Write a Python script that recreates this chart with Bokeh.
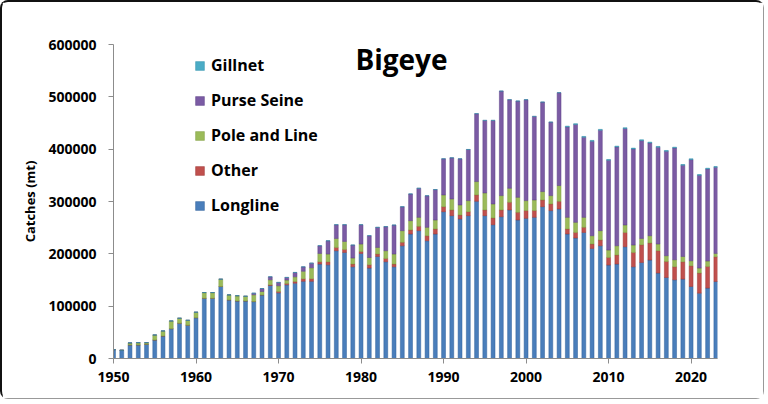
from bokeh.plotting import figure
from bokeh.models import (ColumnDataSource, Legend, LegendItem, Label,
                          FixedTicker, NumeralTickFormatter, Range1d)
from bokeh.embed import file_html
from bokeh.resources import INLINE

# catches in metric tonnes
years = list(range(1950, 2024))

longline = [
    17000, 15700, 26000, 26000, 27000, 35400, 43000, 57000, 67400, 63600,
    78000, 115000, 115000, 137600, 112000, 110000, 110000, 108800, 121500, 139500,
    125500, 140800, 144000, 147500, 147500, 180400, 179000, 206000, 202700, 175300,
    200800, 172800, 195000, 184900, 175300, 215500, 237900, 244300, 225000, 237900,
    280600, 273000, 266600, 273000, 300400, 273000, 255700, 271000, 283900, 264700,
    267800, 269700, 290200, 282600, 285800, 237900, 230200, 241000, 210400, 215500,
    178500, 180400, 213600, 175300, 183600, 188100, 163200, 154800, 150400, 151700,
    137600, 124900, 134500, 147100,
]
other = [
    0, 0, 0, 0, 0, 0, 0, 0, 0, 0,
    0, 0, 0, 0, 0, 0, 0, 0, 0, 1300,
    2600, 2600, 3200, 4800, 4800, 4500, 5900, 6300, 5700, 5100,
    3800, 6200, 4600, 6400, 5100, 6400, 7700, 8200, 9700, 9600,
    9600, 10900, 7700, 7600, 12200, 10900, 12900, 12900, 14600, 14600,
    14800, 12900, 12800, 12800, 14600, 9600, 10800, 9600, 8400, 10900,
    14600, 17300, 27400, 27400, 33800, 32600, 42800, 30600, 24900, 33200,
    39600, 38300, 41400, 47300,
]
pole_and_line = [
    0, 0, 3500, 4000, 3000, 9600, 9700, 14800, 9600, 9400,
    10500, 11000, 11000, 14000, 9600, 10000, 9000, 13000, 6500, 9600,
    10900, 6400, 8900, 14500, 21000, 15900, 14700, 17200, 15400, 11600,
    14200, 14000, 12700, 14700, 19200, 22400, 17800, 17200, 15900, 17200,
    22400, 21100, 19200, 21100, 25500, 32500, 26800, 27400, 26800, 28700,
    19100, 20400, 16000, 15900, 30100, 22200, 19200, 19100, 15900, 17900,
    14200, 17800, 14200, 14200, 12100, 14000, 12800, 11000, 13400, 10100,
    9600, 9600, 10300, 6400,
]
purse_seine = [
    0, 0, 500, 500, 500, 0, 0, 0, 0, 0,
    0, 0, 0, 0, 0, 0, 0, 3000, 5700, 5700,
    6400, 5100, 8300, 8300, 8900, 14700, 25400, 26200, 31900, 24800,
    36900, 41700, 38300, 46000, 55400, 45700, 51100, 55600, 60400, 58100,
    69000, 78500, 88100, 97700, 129700, 138600, 159600, 199700, 169300, 184000,
    192900, 159600, 171000, 140400, 177500, 172800, 187000, 153100, 180500, 192000,
    171500, 188800, 184300, 183600, 187000, 177200, 184900, 199600, 213600, 174200,
    193300, 177200, 175900, 164600,
]
gillnet = [0] * 55 + [1500] * 19

series = ["longline", "other", "pole_and_line", "purse_seine", "gillnet"]
labels = ["Longline", "Other", "Pole and Line", "Purse Seine", "Gillnet"]
fills = ["#4A7EBB", "#C0504D", "#9BBB59", "#7B5BA4", "#4BACC6"]
edges = ["#2F5E99", "#9A3532", "#7C9A3E", "#5A3F85", "#3190AA"]

source = ColumnDataSource(data=dict(
    year=years, longline=longline, other=other, pole_and_line=pole_and_line,
    purse_seine=purse_seine, gillnet=gillnet,
))

p = figure(width=764, height=399, output_backend="svg", toolbar_location=None,
           x_range=Range1d(1950, 2023.2), y_range=Range1d(0, 600000),
           min_border_left=111, min_border_right=49, min_border_top=42,
           min_border_bottom=43)
p.styles = {"border-top": "2px solid #111", "border-left": "2px solid #111",
            "border-right": "1px solid #999", "border-bottom": "1px solid #999",
            "border-radius": "8px"}

bars = p.vbar_stack(series, x="year", width=0.47, source=source,
                    fill_color=fills, line_color=edges, line_width=0.5)

font = "Open Sans"
p.outline_line_color = None
p.xgrid.visible = False
p.ygrid.visible = False

p.yaxis.ticker = FixedTicker(ticks=[0, 100000, 200000, 300000, 400000, 500000, 600000])
p.yaxis.formatter = NumeralTickFormatter(format="0")
p.xaxis.ticker = FixedTicker(ticks=[1950, 1960, 1970, 1980, 1990, 2000, 2010, 2020])
p.yaxis.axis_label = "Catches (mt)"
p.yaxis.axis_label_text_font = font
p.yaxis.axis_label_text_font_style = "bold"
p.yaxis.axis_label_text_font_size = "13px"
p.yaxis.axis_label_text_color = "black"
p.yaxis.axis_label_standoff = 6

for ax in [p.xaxis, p.yaxis]:
    ax.axis_line_color = "#8c8c8c"
    ax.major_tick_line_color = "#8c8c8c"
    ax.major_tick_out = 5
    ax.major_tick_in = 0
    ax.minor_tick_line_color = None
    ax.major_label_text_font = font
    ax.major_label_text_font_style = "bold"
    ax.major_label_text_font_size = "14px"
    ax.major_label_text_color = "black"
p.xaxis.major_label_standoff = 8
p.yaxis.major_label_standoff = 12

title = Label(x=1984.9, y=573000, text="Bigeye", text_align="center",
              text_baseline="alphabetic", text_font=font, text_color="black",
              text_font_style="bold", text_font_size="28px")
p.add_layout(title)

items = [LegendItem(label=labels[i], renderers=[bars[i]]) for i in range(4, -1, -1)]
legend = Legend(items=items, location=(81, 142), padding=0, margin=0,
                border_line_color=None, background_fill_alpha=0,
                glyph_width=11, glyph_height=11, label_height=20,
                spacing=13, label_standoff=6,
                label_text_font=font, label_text_font_style="bold",
                label_text_font_size="16px", label_text_color="black")
p.add_layout(legend)

open("out.html", "w").write(file_html(p, INLINE))
